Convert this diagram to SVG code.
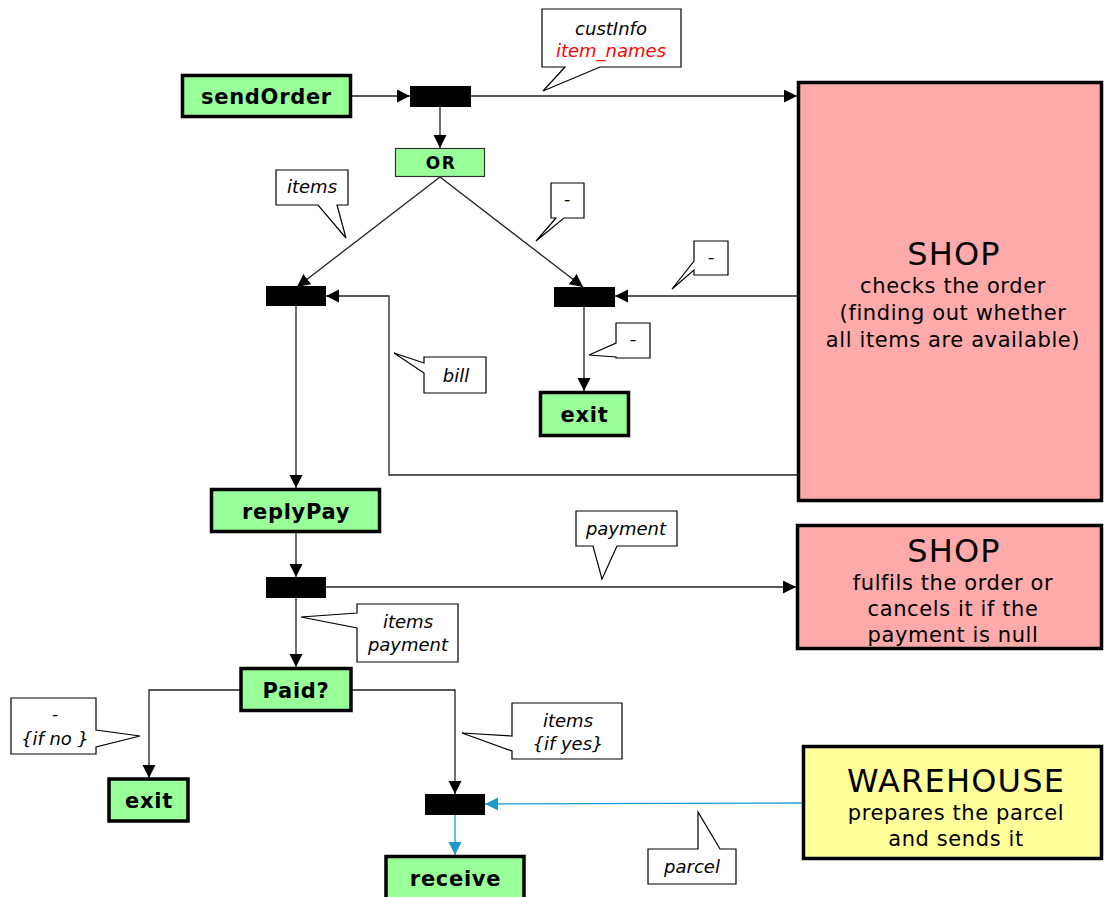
<svg xmlns="http://www.w3.org/2000/svg" width="1104" height="897" viewBox="0 0 1104 897">
  <style>
    .act { fill: #99ff99; stroke: #000; stroke-width: 3.5; }
    .or { fill: #99ff99; stroke: #333; stroke-width: 1.2; }
    .bar { fill: #000; }
    .shop { fill: #ffaaaa; stroke: #000; stroke-width: 3.5; }
    .wh { fill: #ffff99; stroke: #000; stroke-width: 3.5; }
    .lbl { font-family: "DejaVu Sans", Verdana, sans-serif; font-weight: bold; font-size: 21px; letter-spacing: 0.7px; fill: #000; text-anchor: middle; }
    .big { font-family: "DejaVu Sans", Verdana, sans-serif; font-size: 32px; letter-spacing: 1.2px; fill: #000; text-anchor: middle; }
    .sub { font-family: "DejaVu Sans", Verdana, sans-serif; font-size: 21px; letter-spacing: 0.6px; fill: #000; text-anchor: middle; }
    .note { fill: #fff; stroke: #000; stroke-width: 1.2; stroke-linejoin: miter; }
    .nt { font-family: "DejaVu Sans", Verdana, sans-serif; font-style: italic; font-size: 18px; fill: #000; text-anchor: middle; }
    .red { fill: #ff0000; }
    .c { fill: none; stroke: #222; stroke-width: 1.3; }
    .cb { fill: none; stroke: #1a9bd0; stroke-width: 1.3; }
  </style>
  <defs>
    <marker id="ah" markerUnits="userSpaceOnUse" markerWidth="14" markerHeight="14" refX="13" refY="6.5" orient="auto">
      <path d="M0,0 L13,6.5 L0,13 Z" fill="#000"/>
    </marker>
    <marker id="ahb" markerUnits="userSpaceOnUse" markerWidth="14" markerHeight="14" refX="13" refY="6.5" orient="auto">
      <path d="M0,0 L13,6.5 L0,13 Z" fill="#1a9bd0"/>
    </marker>
  </defs>

  <!-- connectors -->
  <g id="connectors">
    <path class="c" d="M352,96 H410" marker-end="url(#ah)"/>
    <path class="c" d="M471,96 H797" marker-end="url(#ah)"/>
    <path class="c" d="M440,107 V148" marker-end="url(#ah)"/>
    <path class="c" d="M440,177 L297,287" marker-end="url(#ah)"/>
    <path class="c" d="M440,177 L583,287" marker-end="url(#ah)"/>
    <path class="c" d="M797,296 H615" marker-end="url(#ah)"/>
    <path class="c" d="M584,307 V391" marker-end="url(#ah)"/>
    <path class="c" d="M797,475 H389 V296 H326" marker-end="url(#ah)"/>
    <path class="c" d="M296,306 V488" marker-end="url(#ah)"/>
    <path class="c" d="M296,533 V577" marker-end="url(#ah)"/>
    <path class="c" d="M326,587 H796" marker-end="url(#ah)"/>
    <path class="c" d="M296,598 V667" marker-end="url(#ah)"/>
    <path class="c" d="M240,690 H149 V778" marker-end="url(#ah)"/>
    <path class="c" d="M352,690 H455 V794" marker-end="url(#ah)"/>
    <path class="cb" d="M802,803 L485,804" marker-end="url(#ahb)"/>
    <path class="cb" d="M455,815 V855" marker-end="url(#ahb)"/>
  </g>

  <!-- connector notes -->
  <g id="notes">
    <path class="note" d="M542,9 H681 V67 H600 L543,91 L565,67 H542 Z"/>
    <text class="nt" x="611" y="35">custInfo</text>
    <text class="nt red" x="611" y="57">item_names</text>

    <path class="note" d="M276,170 H348 V205 H337 L346,238 L318,205 H276 Z"/>
    <text class="nt" x="312" y="193">items</text>

    <path class="note" d="M551,183 H584 V218 H564 L536,241 L556,218 H551 Z"/>
    <text class="nt" x="567" y="205">-</text>

    <path class="note" d="M694,241 H728 V275 H694 V270 L672,289 L694,261 Z"/>
    <text class="nt" x="711" y="263">-</text>

    <path class="note" d="M616,323 H650 V358 H616 V357 L589,355 L616,343 Z"/>
    <text class="nt" x="633" y="345">-</text>

    <path class="note" d="M424,357 H486 V393 H424 V373 L394,353 L424,363 Z"/>
    <text class="nt" x="456" y="382">bill</text>

    <path class="note" d="M576,511 H677 V546 H617 L602,579 L593,546 H576 Z"/>
    <text class="nt" x="626" y="535">payment</text>

    <path class="note" d="M357,604 H458 V662 H357 V628 L301,617 L357,613 Z"/>
    <text class="nt" x="408" y="628">items</text>
    <text class="nt" x="408" y="651">payment</text>

    <path class="note" d="M11,698 H96 V730 L140,736 L96,747 V754 H11 Z"/>
    <text class="nt" x="55" y="720">-</text>
    <text class="nt" x="55" y="745">{if no }</text>

    <path class="note" d="M512,703 H622 V759 H512 V751 L462,733 L512,736 Z"/>
    <text class="nt" x="568" y="727">items</text>
    <text class="nt" x="568" y="750">{if yes}</text>

    <path class="note" d="M648,849 H698 L698,812 L720,849 H736 V884 H648 Z"/>
    <text class="nt" x="692" y="873">parcel</text>
  </g>

  <!-- nodes -->
  <g id="sendOrder">
    <rect class="act" x="182.5" y="75.5" width="168" height="41"/>
    <text class="lbl" x="266.5" y="104">sendOrder</text>
  </g>
  <g id="fork1"><rect class="bar" x="410" y="86" width="61" height="21"/></g>
  <g id="or">
    <rect class="or" x="395.5" y="148.5" width="89" height="28"/>
    <text class="lbl" x="441" y="169" style="font-size:17px;letter-spacing:1.5px">OR</text>
  </g>
  <g id="join-items"><rect class="bar" x="266" y="286" width="60" height="20"/></g>
  <g id="join-none"><rect class="bar" x="554" y="287" width="61" height="20"/></g>
  <g id="exit1">
    <rect class="act" x="540.5" y="392.5" width="88" height="43"/>
    <text class="lbl" x="584.5" y="422">exit</text>
  </g>
  <g id="replyPay">
    <rect class="act" x="211.5" y="489.5" width="168" height="42"/>
    <text class="lbl" x="296" y="519">replyPay</text>
  </g>
  <g id="fork2"><rect class="bar" x="266" y="577" width="60" height="21"/></g>
  <g id="paid">
    <rect class="act" x="241" y="668.5" width="110" height="42"/>
    <text class="lbl" x="296" y="698">Paid?</text>
  </g>
  <g id="exit2">
    <rect class="act" x="109" y="779" width="79" height="42"/>
    <text class="lbl" x="149" y="808">exit</text>
  </g>
  <g id="join-parcel"><rect class="bar" x="425" y="794" width="60" height="21"/></g>
  <g id="receive">
    <rect class="act" x="386" y="856.5" width="138" height="50"/>
    <text class="lbl" x="455.5" y="886">receive</text>
  </g>
  <g id="shop-check">
    <rect class="shop" x="798.5" y="82.5" width="303" height="418"/>
    <text class="big" x="954" y="265">SHOP</text>
    <text class="sub" x="953" y="293">checks the order</text>
    <text class="sub" x="953" y="320">(finding out whether</text>
    <text class="sub" x="953" y="347">all items are available)</text>
  </g>
  <g id="shop-fulfil">
    <rect class="shop" x="797.5" y="525.5" width="304" height="123"/>
    <text class="big" x="954" y="562">SHOP</text>
    <text class="sub" x="953" y="590">fulfils the order or</text>
    <text class="sub" x="953" y="616">cancels it if the</text>
    <text class="sub" x="953" y="642">payment is null</text>
  </g>
  <g id="warehouse">
    <rect class="wh" x="803.5" y="746.5" width="298" height="112"/>
    <text class="big" x="956" y="792">WAREHOUSE</text>
    <text class="sub" x="956" y="820">prepares the parcel</text>
    <text class="sub" x="956" y="846">and sends it</text>
  </g>
</svg>
